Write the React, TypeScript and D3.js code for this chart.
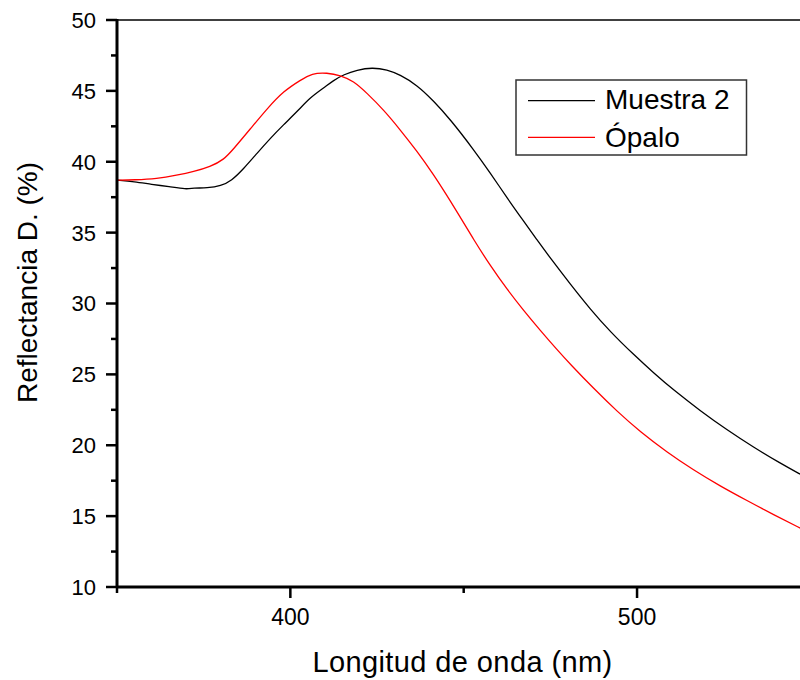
import React from "react";
import * as d3 from "d3";

// Wavelength (nm) and diffuse reflectance (%) for each sample
const muestraX = [350, 355, 360, 365, 370, 372, 376, 380, 383, 386.5, 390.4, 394.2, 398, 402, 405.8, 409.6, 412.5, 415.4, 419.2, 423.6, 427.9, 431.7, 436.5, 441.3, 446.1, 452.9, 457.7, 462.5, 467.3, 471.1, 475, 480.8, 486.5, 492.3, 499, 504.8, 510.5, 518.2, 525.9, 533.6, 541.3, 547.1, 550];
const muestraY = [38.7, 38.6, 38.4, 38.25, 38.05, 38.15, 38.15, 38.3, 38.65, 39.5, 40.6, 41.65, 42.6, 43.55, 44.55, 45.2, 45.75, 46.15, 46.48, 46.65, 46.5, 46.13, 45.42, 44.3, 43.0, 40.85, 39.2, 37.45, 35.8, 34.5, 33.2, 31.35, 29.6, 28.0, 26.4, 25.1, 23.9, 22.44, 21.09, 19.86, 18.73, 17.95, 17.57];

const opaloX = [350, 355, 361.5, 367.3, 372.1, 376.9, 380.8, 383.6, 388.4, 393.3, 398.1, 402.9, 406.2, 410.6, 414.4, 418.2, 422.1, 426.9, 431.7, 436.5, 441.3, 445.2, 448.1, 452.9, 457.7, 462.5, 467.3, 472.1, 476.9, 480.8, 487.5, 494.2, 500.9, 508.6, 516.3, 524, 531.7, 539.4, 547.1, 550];
const opaloY = [38.7, 38.72, 38.8, 39.05, 39.3, 39.65, 40.14, 40.9, 42.3, 43.75, 45.0, 45.75, 46.25, 46.28, 46.1, 45.7, 44.84, 43.66, 42.25, 40.75, 39.1, 37.6, 36.45, 34.5, 32.65, 31.0, 29.5, 28.1, 26.75, 25.7, 24.0, 22.4, 20.95, 19.52, 18.25, 17.12, 16.1, 15.1, 14.15, 13.8];

const xMajorTicks = [400, 500];
const xMinorTicks = [350, 450, 550];
const yMajorTicks = [10, 15, 20, 25, 30, 35, 40, 45, 50];
const yMinorTicks = [12.5, 17.5, 22.5, 27.5, 32.5, 37.5, 42.5, 47.5];

const seriesNames = ["Muestra 2", "Ópalo"];
const seriesColors = ["#000000", "#ff0000"];

const W = 800;
const H = 680;
const left = 117;
const top = 20;
const bottom = 587;
const pxPerNm = 3.467;

const x = d3.scaleLinear().domain([350, 550]).range([left, left + pxPerNm * 200]);
const y = d3.scaleLinear().domain([10, 50]).range([bottom, top]);

const font = "'Liberation Sans', Arial, sans-serif";

export default function App() {
  const series = [
    { xs: muestraX, ys: muestraY },
    { xs: opaloX, ys: opaloY },
  ];
  const line = d3
    .line<[number, number]>()
    .x((d) => x(d[0]))
    .y((d) => y(d[1]))
    .curve(d3.curveBasis);

  return (
    <svg
      width={W}
      height={H}
      style={{ position: "absolute", left: 0, top: 0, background: "#fff" }}
      fontFamily={font}
    >
      <defs>
        <clipPath id="plotArea">
          <rect x={left} y={top} width={W - left} height={bottom - top} />
        </clipPath>
      </defs>
      <rect x={0} y={0} width={W} height={H} fill="#fff" />

      {/* data curves */}
      <g clipPath="url(#plotArea)">
        {series.map((s, i) => (
          <path
            key={i}
            d={line(s.xs.map((v, j) => [v, s.ys[j]] as [number, number])) || ""}
            fill="none"
            stroke={seriesColors[i]}
            strokeWidth={1.3}
          />
        ))}
      </g>

      {/* frame top line */}
      <line x1={left} x2={W} y1={top} y2={top} stroke="#000" strokeWidth={1.5} />

      {/* left axis */}
      <line x1={left} x2={left} y1={top - 1} y2={bottom + 1} stroke="#000" strokeWidth={3} />
      {yMajorTicks.map((t) => (
        <g key={"ym" + t}>
          <line x1={left - 11} x2={left} y1={y(t)} y2={y(t)} stroke="#000" strokeWidth={2.5} />
          <text x={96} y={y(t)} dy="0.36em" textAnchor="end" fontSize={22} fill="#000">
            {t}
          </text>
        </g>
      ))}
      {yMinorTicks.map((t) => (
        <line key={"yn" + t} x1={left - 6} x2={left} y1={y(t)} y2={y(t)} stroke="#000" strokeWidth={2.5} />
      ))}

      {/* bottom axis */}
      <line x1={left - 1} x2={W} y1={bottom} y2={bottom} stroke="#000" strokeWidth={3} />
      {xMajorTicks.map((t) => (
        <g key={"xm" + t}>
          <line x1={x(t)} x2={x(t)} y1={bottom} y2={bottom + 11} stroke="#000" strokeWidth={2.5} />
          <text x={x(t)} y={625} textAnchor="middle" fontSize={23} fill="#000">
            {t}
          </text>
        </g>
      ))}
      {xMinorTicks.map((t) => (
        <line key={"xn" + t} x1={x(t)} x2={x(t)} y1={bottom} y2={bottom + 6} stroke="#000" strokeWidth={2.5} />
      ))}

      {/* axis titles */}
      <text x={462.5} y={672} textAnchor="middle" fontSize={29} fill="#000" letterSpacing={0.4}>
        Longitud de onda (nm)
      </text>
      <text
        transform={`translate(37, 282.5) rotate(-90)`}
        textAnchor="middle"
        fontSize={28}
        fill="#000"
      >
        Reflectancia D. (%)
      </text>

      {/* legend */}
      <rect x={516} y={80} width={230.5} height={75} fill="#fff" stroke="#333" strokeWidth={1.5} />
      {seriesNames.map((name, i) => (
        <g key={name}>
          <line
            x1={528}
            x2={595}
            y1={100.7 + i * 36.6}
            y2={100.7 + i * 36.6}
            stroke={seriesColors[i]}
            strokeWidth={1.3}
          />
          <text x={605} y={108.5 + i * 38} fontSize={28} fill="#000">
            {name}
          </text>
        </g>
      ))}
    </svg>
  );
}
